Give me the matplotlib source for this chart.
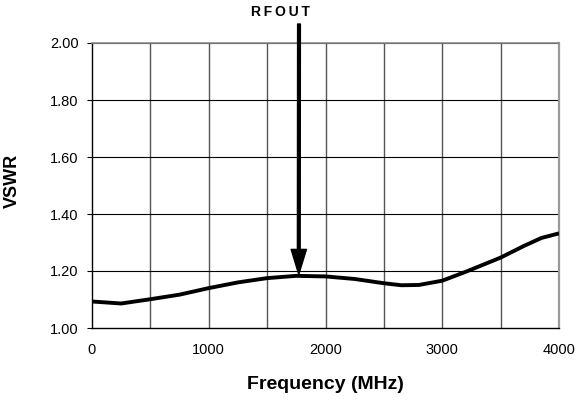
import numpy as np
import matplotlib
matplotlib.use("Agg")
import matplotlib.pyplot as plt

plt.rcParams['font.family'] = ['Liberation Sans', 'DejaVu Sans']

# VSWR vs frequency
freq = [0, 250, 500, 750, 1000, 1250, 1500, 1750, 2000, 2250, 2500,
        2650, 2800, 3000, 3200, 3500, 3700, 3850, 4000]
vswr = [1.093, 1.086, 1.101, 1.117, 1.140, 1.160, 1.175, 1.183, 1.181, 1.172, 1.157,
        1.150, 1.151, 1.166, 1.197, 1.247, 1.288, 1.316, 1.332]

x_ticks = [0, 1000, 2000, 3000, 4000]
x_grid = [500, 1000, 1500, 2000, 2500, 3000, 3500]
y_ticks = [1.00, 1.20, 1.40, 1.60, 1.80, 2.00]
arrow_freq = 1771
arrow_vswr = 1.188
arrow_label = "R\u2009F\u2009O\u2009U\u2009T"

fig = plt.figure(figsize=(5.78, 4.04), dpi=100)
ax = fig.add_axes([92/578, 1-328/404, (559-92)/578, (328-43)/404])

# grid
for g in x_grid:
    ax.axvline(g, color='#555555', lw=1.0, zorder=1)
for g in y_ticks[1:]:
    ax.axhline(g, color='black', lw=0.8, zorder=1)

ax.plot(freq, vswr, color='black', lw=2.8, solid_capstyle='butt', zorder=3)

ax.set_xlim(0, 4000)
ax.set_ylim(1.0, 2.0)
ax.set_xticks(x_ticks)
ax.set_xticklabels([str(t) for t in x_ticks])
ax.set_yticks(y_ticks)
ax.set_yticklabels(["%.2f" % t for t in y_ticks])
ax.tick_params(axis='y', direction='out', length=3.6, width=0.8, pad=6, labelsize=10.5)
ax.tick_params(axis='x', length=0, pad=11, labelsize=10.5)

for s in ['left', 'bottom']:
    ax.spines[s].set_color('black')
    ax.spines[s].set_linewidth(1.0)
ax.spines['top'].set_color('#8c8c8c')
ax.spines['top'].set_linewidth(1.2)
ax.spines['right'].set_color('#9a9a9a')
ax.spines['right'].set_linewidth(1.6)

ax.set_xlabel("Frequency (MHz)", fontsize=14, fontweight='bold')
ax.xaxis.set_label_coords(0.5, -0.17)
ax.set_ylabel("VSWR", fontsize=13, fontweight='bold')
ax.yaxis.set_label_coords(-0.152, 0.516)

# arrow pointing at the curve
ax.annotate("", xy=(arrow_freq, arrow_vswr), xytext=(299, 404-24),
            textcoords='figure pixels', annotation_clip=False,
            arrowprops=dict(facecolor='black', edgecolor='black', width=2.0,
                            headwidth=11, headlength=18, shrink=0))
fig.text(280/578, 1-12/404, arrow_label, ha='center', va='center',
         fontsize=10, fontweight='bold')

fig.savefig("out.png", dpi=100)
